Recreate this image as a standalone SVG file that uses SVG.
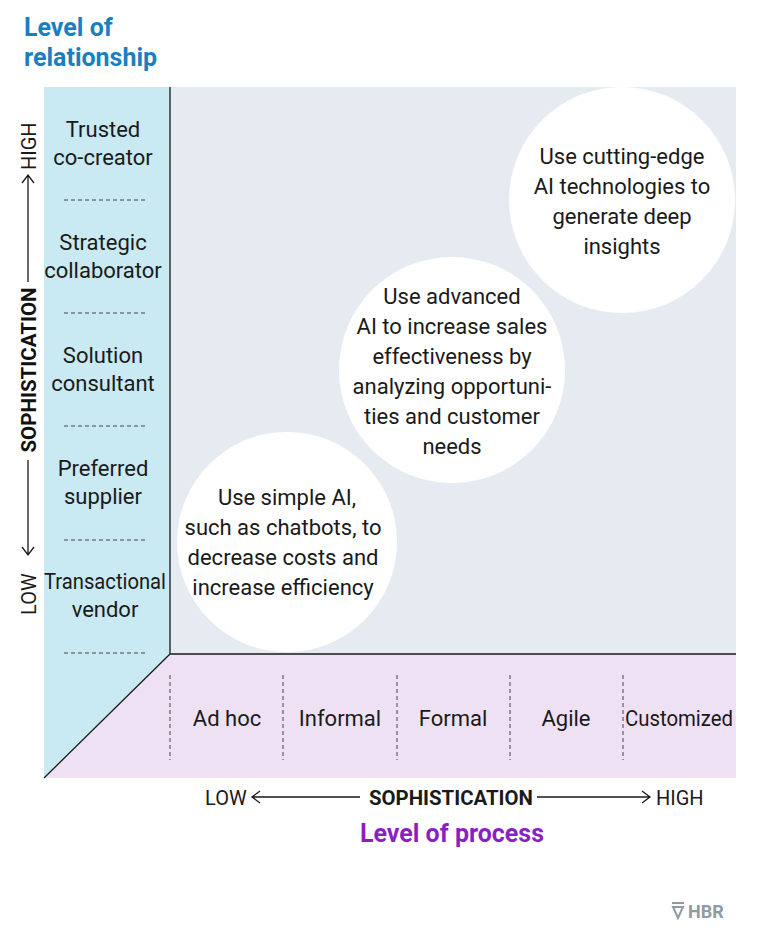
<svg xmlns="http://www.w3.org/2000/svg" width="764" height="936" viewBox="0 0 764 936">
<style>
text{font-family:Roboto,"Liberation Sans",sans-serif;fill:#1a1a1a}
.lab{font-size:22px;text-anchor:middle}
.dash{stroke:#444;stroke-width:1;stroke-dasharray:4,3}
.ax{stroke:#1a1a1a;stroke-width:1.3;fill:none}
</style>
<defs><clipPath id="g"><rect x="170" y="87" width="566" height="567"/></clipPath></defs>
<rect width="764" height="936" fill="#fff"/>
<text x="24" y="36" font-size="25" font-weight="bold" style="fill:#1a7fc1">Level of</text>
<text x="24" y="66" font-size="25" font-weight="bold" style="fill:#1a7fc1">relationship</text>
<g id="relationship-axis">
<polygon points="44,87 170,87 170,654 44,778" fill="#c9e9f3"/>
<rect x="170" y="87" width="566" height="567" fill="#e6ebf2"/>
<polygon points="44,778 170,654 736,654 736,778" fill="#efe1f4"/>
</g>
<g id="bubbles" clip-path="url(#g)" fill="#fff">
<circle cx="287" cy="542" r="110"/>
<circle cx="452" cy="370" r="113"/>
<circle cx="622" cy="200" r="113"/>
</g>
<g id="connectors">
<path class="ax" d="M170,87V654H736M170,654L44,778" stroke-width="1.5"/>
<path class="dash" d="M64,200H148M64,313H148M64,426H148M64,540H148M64,653H148"/>
<path class="dash" d="M170,675V760M283,675V760M397,675V760M510,675V760M623,675V760"/>
<path class="ax" d="M28,175V282M28,460V555M22,183L28,175L34,183M22,547L28,555L34,547"/>
<path class="ax" d="M252,797H360M260,791L252,797L260,803M537,797H650M642,791L650,797L642,803"/>
</g>
<g id="relationship-labels">
<text class="lab" x="103" y="137">Trusted</text><text class="lab" x="103" y="165">co-creator</text>
<text class="lab" x="103" y="250">Strategic</text><text class="lab" x="103" y="278">collaborator</text>
<text class="lab" x="103" y="363">Solution</text><text class="lab" x="103" y="391">consultant</text>
<text class="lab" x="103" y="476">Preferred</text><text class="lab" x="103" y="504">supplier</text>
<text class="lab" x="105" y="589" textLength="122" lengthAdjust="spacingAndGlyphs">Transactional</text><text class="lab" x="105" y="617">vendor</text>
</g>
<g transform="translate(36,370) rotate(-90)">
<text x="0" y="0" font-size="21" font-weight="bold" text-anchor="middle" textLength="165" lengthAdjust="spacingAndGlyphs" style="fill:#111">SOPHISTICATION</text>
</g>
<g transform="translate(36,0) rotate(-90)">
<text x="-615" y="0" font-size="20">LOW</text>
<text x="-170" y="0" font-size="20">HIGH</text>
</g>
<g id="process-labels">
<text class="lab" x="227" y="726">Ad hoc</text>
<text class="lab" x="340" y="726">Informal</text>
<text class="lab" x="453" y="726">Formal</text>
<text class="lab" x="566" y="726">Agile</text>
<text class="lab" x="679" y="726" textLength="108" lengthAdjust="spacingAndGlyphs">Customized</text>
</g>
<g id="bubble-text">
<text class="lab" x="287" y="505">Use simple AI,</text>
<text class="lab" x="283" y="535">such as chatbots, to</text>
<text class="lab" x="283" y="565">decrease costs and</text>
<text class="lab" x="283" y="595">increase efficiency</text>
<text class="lab" x="452" y="304">Use advanced</text>
<text class="lab" x="452" y="334">AI to increase sales</text>
<text class="lab" x="452" y="364">effectiveness by</text>
<text class="lab" x="452" y="394">analyzing opportuni-</text>
<text class="lab" x="452" y="424">ties and customer</text>
<text class="lab" x="452" y="454">needs</text>
<text class="lab" x="622" y="164">Use cutting-edge</text>
<text class="lab" x="622" y="194">AI technologies to</text>
<text class="lab" x="622" y="224">generate deep</text>
<text class="lab" x="622" y="254">insights</text>
</g>
<text x="205" y="805" font-size="20">LOW</text>
<text x="451" y="805" font-size="21" font-weight="bold" text-anchor="middle" textLength="164" lengthAdjust="spacingAndGlyphs">SOPHISTICATION</text>
<text x="656" y="805" font-size="20">HIGH</text>
<text x="452" y="842" font-size="25" font-weight="bold" text-anchor="middle" style="fill:#8b1fc4">Level of process</text>
<g id="logo">
<path d="M672,903H684M673,907H683L678,918Z" stroke="#8f9ba3" stroke-width="2" fill="none"/>
<text x="688" y="918" font-size="18" font-weight="bold" style="fill:#8f9ba3">HBR</text>
</g>
</svg>
